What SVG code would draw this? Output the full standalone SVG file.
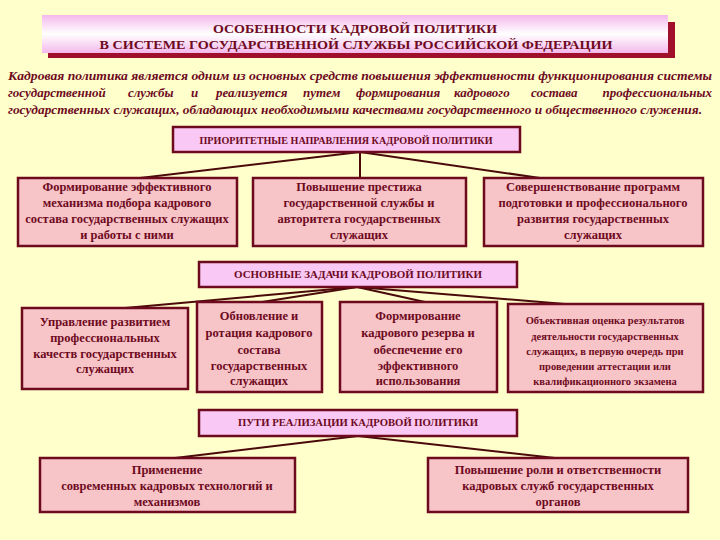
<svg xmlns="http://www.w3.org/2000/svg" width="720" height="540" viewBox="0 0 720 540">
<defs>
<linearGradient id="banner" x1="0" y1="0" x2="0" y2="1">
<stop offset="0" stop-color="#F4B8EC"/>
<stop offset="0.5" stop-color="#FFFFFF"/>
<stop offset="1" stop-color="#F4B8EC"/>
</linearGradient>
<style>
.t{font-family:"Liberation Serif","Times New Roman",serif;font-weight:bold;fill:#6E0A1E;text-anchor:middle}
.box{fill:#F7C4C8;stroke:#6E0A1E;stroke-width:2.5}
.hdr{fill:#F9C8F4;stroke:#6E0A1E;stroke-width:2.5}
.h{font-size:10px}
.b{font-size:12.5px}
.s{font-size:10.5px}
.p{font-family:"Liberation Serif","Times New Roman",serif;font-weight:bold;font-style:italic;font-size:13px;fill:#6E0A1E}
.c{stroke:#4A0A0A;stroke-width:2;fill:none}
</style>
</defs>
<rect x="0" y="0" width="720" height="540" fill="#FFFFCC"/>

<g id="title">
<rect x="48" y="22" width="627" height="36" fill="#A0102A"/>
<rect x="42" y="15" width="626" height="38" fill="url(#banner)"/>
<text class="t" x="355" y="33" font-size="13.5" textLength="284" lengthAdjust="spacingAndGlyphs">ОСОБЕННОСТИ КАДРОВОЙ ПОЛИТИКИ</text>
<text class="t" x="356" y="49" font-size="13.5" textLength="513" lengthAdjust="spacingAndGlyphs">В СИСТЕМЕ ГОСУДАРСТВЕННОЙ СЛУЖБЫ РОССИЙСКОЙ ФЕДЕРАЦИИ</text>
</g>

<g id="intro">
<text class="p" x="8" y="80" textLength="704" lengthAdjust="spacingAndGlyphs">Кадровая политика является одним из основных средств повышения эффективности функционирования системы</text>
<text class="p" y="97"><tspan x="8">государственной</tspan><tspan x="128">службы</tspan><tspan x="191">и</tspan><tspan x="216">реализуется</tspan><tspan x="303">путем</tspan><tspan x="356">формирования</tspan><tspan x="454">кадрового</tspan><tspan x="531">состава</tspan></text>
<text class="p" x="712" y="97" text-anchor="end">профессиональных</text>
<text class="p" x="8" y="114" textLength="694" lengthAdjust="spacingAndGlyphs">государственных служащих, обладающих необходимыми качествами государственного и общественного служения.</text>
</g>

<g id="connectors">
<line class="c" x1="360" y1="152" x2="140" y2="178"/>
<line class="c" x1="360" y1="152" x2="360" y2="178"/>
<line class="c" x1="360" y1="152" x2="540" y2="178"/>
<line class="c" x1="357" y1="287" x2="125" y2="308"/>
<line class="c" x1="357" y1="287" x2="262" y2="302"/>
<line class="c" x1="357" y1="287" x2="425" y2="302"/>
<line class="c" x1="357" y1="287" x2="565" y2="304"/>
<line class="c" x1="358" y1="436" x2="175" y2="458"/>
<line class="c" x1="358" y1="436" x2="555" y2="458"/>
</g>

<g id="h1">
<rect class="hdr" x="173" y="127" width="347" height="25"/>
<text class="t h" x="346" y="143.5" textLength="293" lengthAdjust="spacingAndGlyphs">ПРИОРИТЕТНЫЕ НАПРАВЛЕНИЯ КАДРОВОЙ ПОЛИТИКИ</text>
</g>
<g id="p1">
<rect class="box" x="18" y="178" width="219" height="68"/>
<text class="t b" x="127" y="191">Формирование эффективного</text>
<text class="t b" x="127" y="207">механизма подбора кадрового</text>
<text class="t b" x="127" y="223">состава государственных служащих</text>
<text class="t b" x="127" y="239">и работы с ними</text>
</g>
<g id="p2">
<rect class="box" x="253" y="178" width="213" height="68"/>
<text class="t b" x="359" y="191">Повышение престижа</text>
<text class="t b" x="359" y="207">государственной службы и</text>
<text class="t b" x="359" y="223">авторитета государственных</text>
<text class="t b" x="359" y="239">служащих</text>
</g>
<g id="p3">
<rect class="box" x="484" y="178" width="219" height="68"/>
<text class="t b" x="593" y="191">Совершенствование программ</text>
<text class="t b" x="593" y="207">подготовки и профессионального</text>
<text class="t b" x="593" y="223">развития государственных</text>
<text class="t b" x="593" y="239">служащих</text>
</g>

<g id="h2">
<rect class="hdr" x="199" y="262" width="318" height="25"/>
<text class="t h" x="358" y="278" textLength="248" lengthAdjust="spacingAndGlyphs">ОСНОВНЫЕ ЗАДАЧИ КАДРОВОЙ ПОЛИТИКИ</text>
</g>
<g id="z1">
<rect class="box" x="22" y="308" width="166" height="81"/>
<text class="t b" x="105" y="326">Управление развитием</text>
<text class="t b" x="105" y="342">профессиональных</text>
<text class="t b" x="105" y="358">качеств государственных</text>
<text class="t b" x="105" y="373">служащих</text>
</g>
<g id="z2">
<rect class="box" x="197" y="302" width="125" height="90"/>
<text class="t b" x="259" y="320">Обновление и</text>
<text class="t b" x="259" y="337">ротация кадрового</text>
<text class="t b" x="259" y="354">состава</text>
<text class="t b" x="259" y="370">государственных</text>
<text class="t b" x="259" y="385">служащих</text>
</g>
<g id="z3">
<rect class="box" x="340" y="302" width="157" height="90"/>
<text class="t b" x="418" y="320">Формирование</text>
<text class="t b" x="418" y="337">кадрового резерва и</text>
<text class="t b" x="418" y="354">обеспечение его</text>
<text class="t b" x="418" y="370">эффективного</text>
<text class="t b" x="418" y="385">использования</text>
</g>
<g id="z4">
<rect class="box" x="508" y="304" width="195" height="88"/>
<text class="t s" x="605" y="324">Объективная оценка результатов</text>
<text class="t s" x="605" y="340">деятельности государственных</text>
<text class="t s" x="605" y="355">служащих, в первую очередь при</text>
<text class="t s" x="605" y="370">проведении аттестации или</text>
<text class="t s" x="605" y="385">квалификационного экзамена</text>
</g>

<g id="h3">
<rect class="hdr" x="199" y="410" width="318" height="26"/>
<text class="t h" x="358" y="426" textLength="240" lengthAdjust="spacingAndGlyphs">ПУТИ РЕАЛИЗАЦИИ КАДРОВОЙ ПОЛИТИКИ</text>
</g>
<g id="r1">
<rect class="box" x="40" y="458" width="255" height="54"/>
<text class="t b" x="167" y="474">Применение</text>
<text class="t b" x="167" y="490">современных кадровых технологий и</text>
<text class="t b" x="167" y="506">механизмов</text>
</g>
<g id="r2">
<rect class="box" x="428" y="458" width="260" height="54"/>
<text class="t b" x="558" y="474">Повышение роли и ответственности</text>
<text class="t b" x="558" y="490">кадровых служб государственных</text>
<text class="t b" x="558" y="506">органов</text>
</g>
</svg>
